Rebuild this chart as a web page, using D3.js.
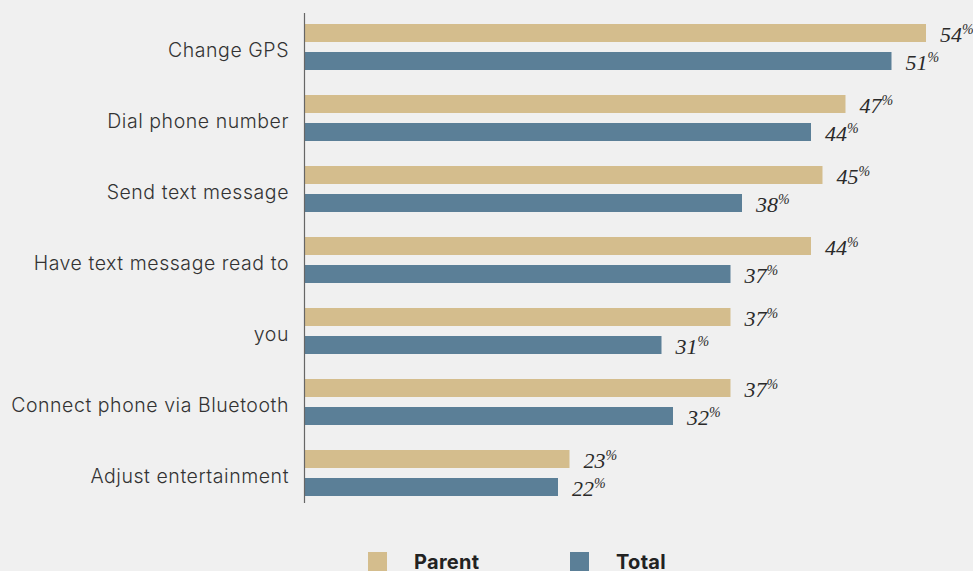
<!DOCTYPE html>
<html><head><meta charset="utf-8">
<script src="https://cdn.jsdelivr.net/npm/d3@7"></script>
<style>
html,body{margin:0;padding:0;background:#f0f0f0;}
svg{display:block;}
</style></head>
<body>
<svg id="c" width="973" height="571"></svg>
<script>
const categories = ["Change GPS","Dial phone number","Send text message","Have text message read to","you","Connect phone via Bluetooth","Adjust entertainment"];
const parentValues = [54,47,45,44,37,37,23];
const totalValues = [51,44,38,37,31,32,22];
const seriesNames = ["Parent","Total"];
const seriesColors = ["#d4bd8d","#5b7f97"];

const svg = d3.select("#c");
const x = d3.scaleLinear().domain([0,60]).range([305,995]);
const y = d3.scaleBand().domain(categories).range([11.5,508.5]).paddingInner(0).paddingOuter(0);
const sub = d3.scaleBand().domain(seriesNames).range([12.5,58.5]).paddingInner(10/28);

const data = categories.map((c,i)=>({c, vals:[{s:"Parent",v:parentValues[i]},{s:"Total",v:totalValues[i]}]}));

const g = svg.selectAll("g.grp").data(data).join("g").attr("class","grp")
  .attr("transform",d=>`translate(0,${y(d.c)})`);

g.selectAll("rect").data(d=>d.vals).join("rect")
  .attr("x",x(0)).attr("y",d=>sub(d.s)).attr("height",sub.bandwidth())
  .attr("width",d=>x(d.v)-x(0))
  .attr("fill",d=>seriesColors[seriesNames.indexOf(d.s)]);

const lbl = g.selectAll("text.val").data(d=>d.vals).join("text").attr("class","val")
  .attr("x",d=>x(d.v)+14).attr("y",d=>sub(d.s)+sub.bandwidth()/2+9)
  .attr("font-family","'Liberation Serif','DejaVu Serif',serif").attr("font-style","italic")
  .attr("font-size",22).attr("fill","#2a2a2a");
lbl.append("tspan").text(d=>d.v);
lbl.append("tspan").text("%").attr("font-size",14).attr("dy",-8);

// category axis
const axis = d3.axisLeft(y).tickSize(0).tickPadding(16);
const ag = svg.append("g").attr("transform",`translate(${x(0)},0)`).call(axis);
ag.select(".domain").remove();
ag.selectAll("text").attr("font-family","Inter, 'Open Sans', sans-serif").attr("font-size",19.5)
  .attr("letter-spacing","0.55px").attr("font-weight",300)
  .attr("fill","#333").attr("dy","0.52em");
svg.append("line").attr("x1",304.5).attr("x2",304.5).attr("y1",13).attr("y2",503)
  .attr("stroke","#666").attr("stroke-width",1.2);

// legend
const legX = [368,570];
const lg = svg.selectAll("g.leg").data(seriesNames).join("g").attr("class","leg")
  .attr("transform",(d,i)=>`translate(${legX[i]},552)`);
lg.append("rect").attr("width",19).attr("height",19).attr("fill",(d,i)=>seriesColors[i]);
lg.append("text").attr("x",46).attr("y",17).text(d=>d)
  .attr("font-family","Inter, 'Open Sans', sans-serif").attr("font-weight","bold")
  .attr("font-size",20).attr("letter-spacing","0.3px").attr("fill","#222");
</script>
</body></html>
